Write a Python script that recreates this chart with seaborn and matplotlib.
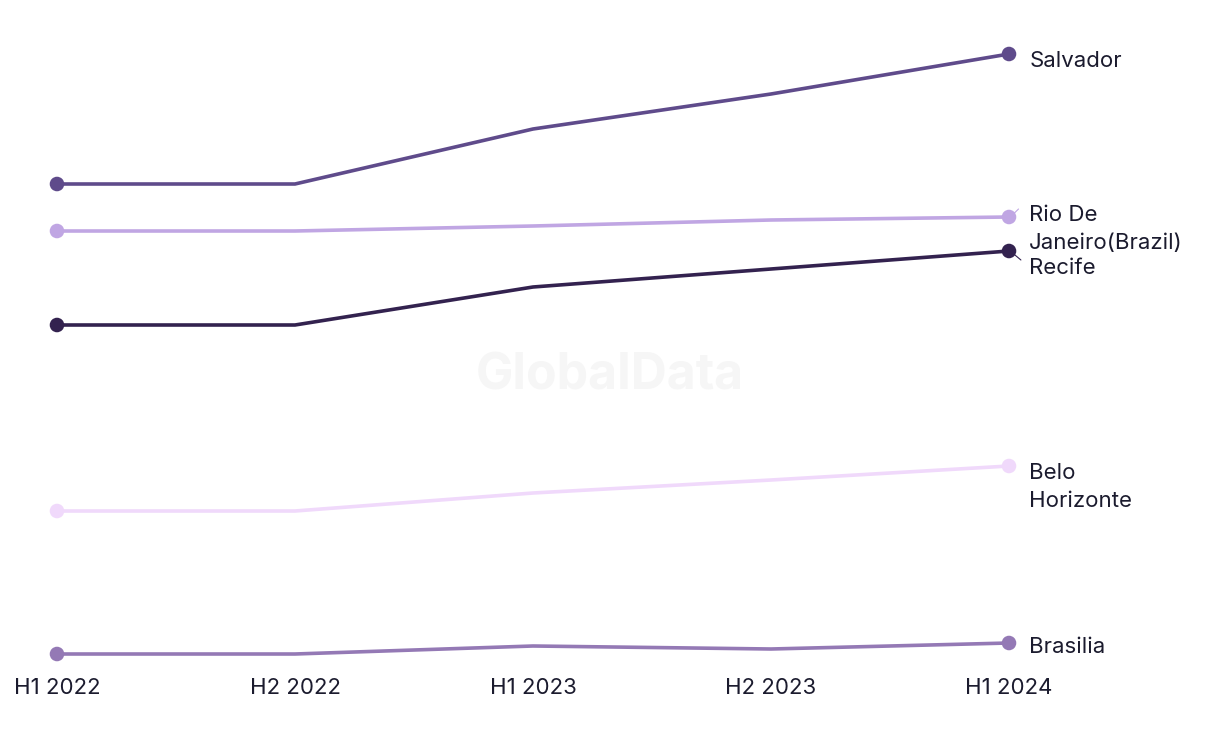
import matplotlib
matplotlib.use("Agg")
import matplotlib.pyplot as plt
import seaborn as sns
import pandas as pd

periods = ["H1 2022", "H2 2022", "H1 2023", "H2 2023", "H1 2024"]
cities = ["Salvador", "Rio De Janeiro(Brazil)", "Recife", "Belo Horizonte", "Brasilia"]
salvador = [51.6, 51.6, 57.1, 60.6, 64.6]
rio = [46.9, 46.9, 47.4, 48.0, 48.3]
recife = [37.5, 37.5, 41.3, 43.1, 44.9]
belo = [18.9, 18.9, 20.7, 22.0, 23.4]
brasilia = [4.6, 4.6, 5.4, 5.1, 5.7]
colors = ["#5f4b8b", "#c0a6e3", "#33224f", "#f0d9fb", "#9479b5"]
end_labels = ["Salvador", "Rio De\nJaneiro(Brazil)", "Recife", "Belo\nHorizonte", "Brasilia"]

rows = []
for city, vals in zip(cities, [salvador, rio, recife, belo, brasilia]):
    for i, v in enumerate(vals):
        rows.append({"city": city, "x": i, "value": v})
df = pd.DataFrame(rows)

sns.set_theme(style="white")
plt.rcParams["font.family"] = ["Inter", "DejaVu Sans"]

fig = plt.figure(figsize=(12.2, 7.44), dpi=100)
ax = fig.add_axes([57 / 1220, 76 / 744, 952 / 1220, 668 / 744])

palette = dict(zip(cities, colors))
sns.lineplot(data=df, x="x", y="value", hue="city", palette=palette, linewidth=2.6,
             legend=False, ax=ax, clip_on=False)
ends = df[df["x"].isin([0, len(periods) - 1])]
sns.scatterplot(data=ends, x="x", y="value", hue="city", palette=palette, s=110,
                edgecolor="none", legend=False, ax=ax, clip_on=False, zorder=5)

ax.set_xlim(0, len(periods) - 1)
ax.set_ylim(3.2, 70)
ax.set_xticks(range(len(periods)))
ax.set_xticklabels(periods, fontsize=16, color="#1b1b2e")
ax.set_yticks([])
ax.tick_params(axis="x", length=0, pad=7)
ax.set_xlabel("")
ax.set_ylabel("")
for s in ax.spines.values():
    s.set_visible(False)

# end labels (offsets in data units to avoid overlap)
label_y = [salvador[-1] - 0.6, rio[-1] + 0.3, recife[-1] - 1.6, belo[-1] - 0.6, brasilia[-1] - 0.3]
for lab, ly in zip(end_labels, label_y):
    ax.text(4.085, ly + 0.9, lab, fontsize=16, color="#1b1b2e",
            va="top", ha="left", linespacing=1.5, clip_on=False)

# small leader lines
ax.plot([4.01, 4.04], [rio[-1] + 0.1, rio[-1] + 0.8], color=colors[1], lw=0.8, clip_on=False)
ax.plot([4.02, 4.05], [recife[-1] - 0.3, recife[-1] - 0.9], color=colors[2], lw=0.8, clip_on=False)

fig.text(0.5, 0.495, "GlobalData", fontsize=36, fontweight="bold", color="#f6f6f6",
         ha="center", va="center", zorder=0)

fig.savefig("out.png", dpi=100)
